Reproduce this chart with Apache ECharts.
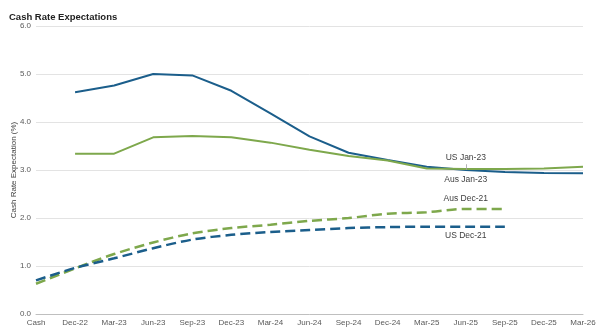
<!DOCTYPE html>
<html><head><meta charset="utf-8">
<script src="https://cdn.jsdelivr.net/npm/echarts@6/dist/echarts.min.js"></script>
<style>html,body{margin:0;padding:0;background:#fff}#c{width:602px;height:332px}</style>
</head><body><div id="c"></div>
<script>
const categories = ['Cash','Dec-22','Mar-23','Jun-23','Sep-23','Dec-23','Mar-24','Jun-24','Sep-24','Dec-24','Mar-25','Jun-25','Sep-25','Dec-25','Mar-26'];
const usJan23  = [null,4.62,4.76,5.00,4.97,4.65,4.18,3.70,3.36,3.21,3.07,3.00,2.96,2.94,2.93];
const ausJan23 = [null,3.34,3.34,3.68,3.71,3.68,3.57,3.42,3.29,3.20,3.03,3.02,3.02,3.03,3.07];
const ausDec21 = [0.63,0.95,1.25,1.49,1.68,1.79,1.86,1.94,2.00,2.09,2.12,2.19,2.19,null,null];
const usDec21  = [0.70,0.96,1.16,1.37,1.55,1.65,1.71,1.75,1.79,1.81,1.82,1.82,1.82,null,null];
const yTicks = [0,1,2,3,4,5,6];
const labelIdx = 11;
const BLUE = '#1b5e8b', GREEN = '#7ea84c';
const FONT = 'Liberation Sans';

function withLabel(arr, text, pos, dist){
  return arr.map((v,i)=> i===labelIdx ? {value:v, label:{show:true, formatter:text, position:pos, distance:dist, color:'#404040', fontSize:8.5, fontFamily:FONT}} : v);
}
const base = {type:'line', symbol:'circle', symbolSize:0, showSymbol:true, showAllSymbol:true};

const chart = echarts.init(document.getElementById('c'));
chart.setOption({
  animation:false,
  title:{text:'Cash Rate Expectations', left:4, top:7, textStyle:{fontFamily:FONT, fontSize:9.5, fontWeight:'bold', color:'#222'}},
  grid:{left:36, right:19, top:26, bottom:18, containLabel:false, outerBoundsMode:'none'},
  xAxis:{type:'category', data:categories, boundaryGap:false,
    axisLine:{lineStyle:{color:'#bfbfbf'}}, axisTick:{show:false},
    axisLabel:{color:'#595959', fontSize:8, fontFamily:FONT, margin:5, interval:0}},
  yAxis:{type:'value', min:yTicks[0], max:yTicks[yTicks.length-1], interval:1,
    name:'Cash Rate Expectation (%)', nameLocation:'middle', nameGap:18, nameMoveOverlap:false,
    nameTextStyle:{fontSize:8, color:'#404040', fontFamily:FONT},
    axisLine:{show:false}, axisTick:{show:false},
    axisLabel:{formatter:v=>v.toFixed(1), color:'#595959', fontSize:8, fontFamily:FONT, margin:5},
    splitLine:{lineStyle:{color:'#e3e3e3'}}},
  series:[
    Object.assign({}, base, {name:'US Jan-23', data:withLabel(usJan23,'US Jan-23','top',8), lineStyle:{color:BLUE, width:2}, itemStyle:{color:BLUE},
      markLine:{silent:true, symbol:'none', label:{show:false}, lineStyle:{color:'#a0a0a0', width:0.8, type:'solid'},
        data:[[{coord:[categories[labelIdx], usJan23[labelIdx]]},{coord:[categories[labelIdx], usJan23[labelIdx]+0.12]}]]}}),
    Object.assign({}, base, {name:'Aus Jan-23', data:withLabel(ausJan23,'Aus Jan-23','bottom',6), lineStyle:{color:GREEN, width:2}, itemStyle:{color:GREEN}}),
    Object.assign({}, base, {name:'Aus Dec-21', data:withLabel(ausDec21,'Aus Dec-21','top',6), smooth:0.3, lineStyle:{color:GREEN, width:2.5, type:[10,5]}, itemStyle:{color:GREEN}}),
    Object.assign({}, base, {name:'US Dec-21', data:withLabel(usDec21,'US Dec-21','bottom',5), smooth:0.3, lineStyle:{color:BLUE, width:2.5, type:[10,5]}, itemStyle:{color:BLUE}})
  ]
});
</script></body></html>
